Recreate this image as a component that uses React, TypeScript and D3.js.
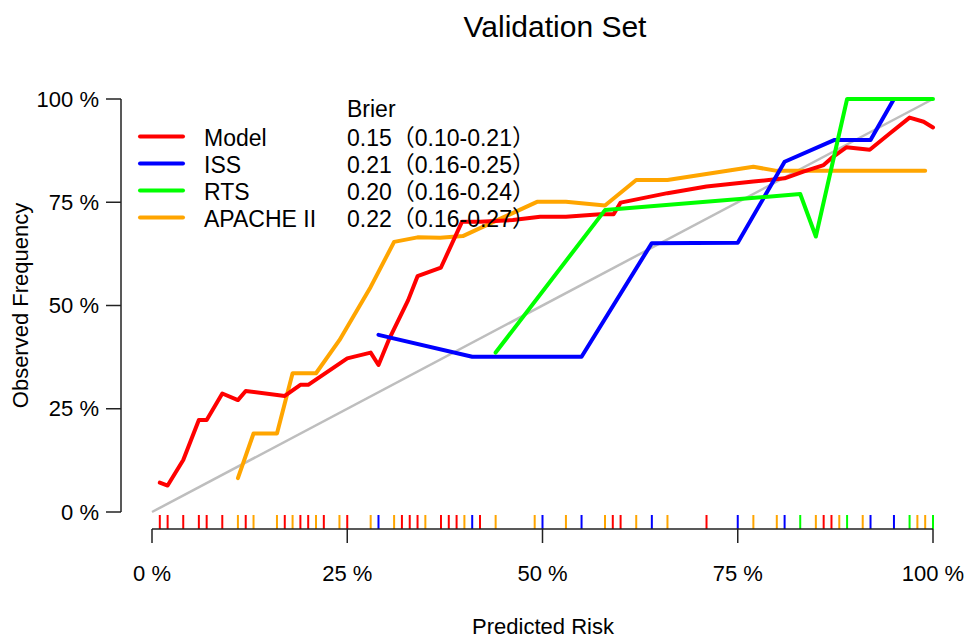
import React from "react";
import * as d3 from "d3";

const seriesNames = ["Model", "ISS", "RTS", "APACHE II"];
const seriesColors = ["#FF0000", "#0000FF", "#00FF00", "#FFA500"];
const brierLabels = [
  "0.15（0.10-0.21）",
  "0.21（0.16-0.25）",
  "0.20（0.16-0.24）",
  "0.22（0.16-0.27）",
];

// calibration curves: [predicted %, observed %]
const modelCurve: [number, number][] = [
  [1, 7.1], [2, 6.4], [4, 12.6], [6, 22.3], [7, 22.3], [9, 28.7], [11, 27.1], [12, 29.3],
  [17, 28.1], [19, 30.8], [20, 30.8], [25, 37.2], [28, 38.6], [29, 35.6], [30.3, 41.6],
  [32.8, 51.3], [34, 57.1], [37, 59.2], [39.7, 70.3], [42, 70.3], [46.2, 70.7], [49.7, 71.5],
  [53, 71.5], [57.4, 72.1], [59.1, 72.1], [60, 74.9], [66, 77.2], [71, 78.8], [77, 80.0],
  [81, 80.8], [83.4, 82.4], [86, 84.0], [87.2, 86.0], [88.9, 88.3], [91.9, 87.7],
  [94.5, 91.7], [97, 95.5], [98.8, 94.5], [100, 93.1],
];
const issCurve: [number, number][] = [
  [29, 42.9], [41, 37.6], [50, 37.6], [55, 37.6], [64, 65.1], [75, 65.2], [81, 84.8],
  [87.4, 90.1], [92, 90.1], [95, 100],
];
const rtsCurve: [number, number][] = [
  [44, 38.6], [58, 73.1], [83, 77.0], [85, 66.7], [89, 100], [100, 100],
];
const apacheCurve: [number, number][] = [
  [11, 8.2], [13, 19], [16, 19], [18, 33.6], [21, 33.6], [24, 41.6], [28, 54.5], [31, 65.4],
  [34, 66.5], [36.9, 66.4], [39.8, 66.8], [49.3, 75.1], [53, 75.1], [58, 74.2],
  [62, 80.4], [66, 80.4], [77, 83.6], [80, 82.6], [99, 82.6],
];

// rug of predicted values
const modelRug = [1, 2, 4, 6, 7, 9, 12, 17, 19, 20, 22, 25, 32, 33, 34, 37, 38, 39, 42, 59, 60, 71, 86, 87];
const issRug = [29, 41, 50, 55, 64, 75, 81, 92, 95];
const apacheRug = [11, 13, 16, 18, 21, 24, 28, 31, 35, 40, 44, 49, 53, 58, 62, 66, 77, 80, 85, 88, 91, 98, 99];
const rtsRug = [83, 89, 97, 100];

const axisTicks = [0, 25, 50, 75, 100];

const FONT = "'Liberation Sans', Arial, 'Noto Sans CJK SC', sans-serif";

export default function App() {
  const W = 972;
  const H = 640;
  const x = d3.scaleLinear().domain([0, 100]).range([152, 933]);
  const y = d3.scaleLinear().domain([0, 100]).range([512, 99]);
  const line = d3
    .line<[number, number]>()
    .x((d) => x(d[0]))
    .y((d) => y(d[1]));

  const curves = [modelCurve, issCurve, rtsCurve, apacheCurve];
  const drawOrder = [3, 0, 1, 2];
  const rugs: { vals: number[]; color: string }[] = [
    { vals: modelRug, color: seriesColors[0] },
    { vals: apacheRug, color: seriesColors[3] },
    { vals: issRug, color: seriesColors[1] },
    { vals: rtsRug, color: seriesColors[2] },
  ];
  const axisY = 529;
  const axisX = 121;

  return (
    <svg width={W} height={H} style={{ position: "absolute", left: 0, top: 0, background: "#fff" }} fontFamily={FONT}>
      <rect width={W} height={H} fill="#fff" />
      {/* title */}
      <text x={555} y={37} fontSize={30} textAnchor="middle" fill="#000">
        Validation Set
      </text>

      {/* reference diagonal */}
      <line x1={x(0)} y1={y(0)} x2={x(100)} y2={y(100)} stroke="#BEBEBE" strokeWidth={2.5} />

      {/* curves */}
      {drawOrder.map((i) => (
        <path
          key={i}
          d={line(curves[i]) || ""}
          fill="none"
          stroke={seriesColors[i]}
          strokeWidth={4}
          strokeLinejoin="round"
          strokeLinecap="round"
        />
      ))}

      {/* rug */}
      {rugs.map((r, ri) =>
        r.vals.map((v, j) => (
          <line key={`${ri}-${j}`} x1={x(v)} x2={x(v)} y1={515} y2={axisY} stroke={r.color} strokeWidth={2} />
        ))
      )}

      {/* x axis */}
      <line x1={x(0)} x2={x(100)} y1={axisY} y2={axisY} stroke="#222" strokeWidth={1.5} />
      {axisTicks.map((t) => (
        <g key={`xt${t}`}>
          <line x1={x(t)} x2={x(t)} y1={axisY} y2={543} stroke="#222" strokeWidth={1.5} />
          <text x={x(t)} y={581} fontSize={22} textAnchor="middle" fill="#000">
            {`${t} %`}
          </text>
        </g>
      ))}

      {/* y axis */}
      <line x1={axisX} x2={axisX} y1={y(0)} y2={y(100)} stroke="#222" strokeWidth={1.5} />
      {axisTicks.map((t) => (
        <g key={`yt${t}`}>
          <line x1={106} x2={axisX} y1={y(t)} y2={y(t)} stroke="#222" strokeWidth={1.5} />
          <text x={99} y={y(t)} fontSize={22} textAnchor="end" dominantBaseline="central" fill="#000">
            {`${t} %`}
          </text>
        </g>
      ))}

      {/* axis titles */}
      <text x={543} y={634} fontSize={22} textAnchor="middle" fill="#000">
        Predicted Risk
      </text>
      <text transform="translate(28,305.5) rotate(-90)" fontSize={22} textAnchor="middle" fill="#000">
        Observed Frequency
      </text>

      {/* legend */}
      <text x={347} y={108.5} fontSize={23} dominantBaseline="central" fill="#000">
        Brier
      </text>
      {seriesNames.map((name, i) => {
        const ly = 136.5 + i * 27;
        return (
          <g key={name}>
            <line x1={140} x2={183} y1={ly} y2={ly} stroke={seriesColors[i]} strokeWidth={4} strokeLinecap="round" />
            <text x={204} y={ly + 1} fontSize={23} dominantBaseline="central" fill="#000">
              {name}
            </text>
            <text x={347} y={ly + 1} fontSize={23} dominantBaseline="central" fill="#000">
              {brierLabels[i]}
            </text>
          </g>
        );
      })}
    </svg>
  );
}
